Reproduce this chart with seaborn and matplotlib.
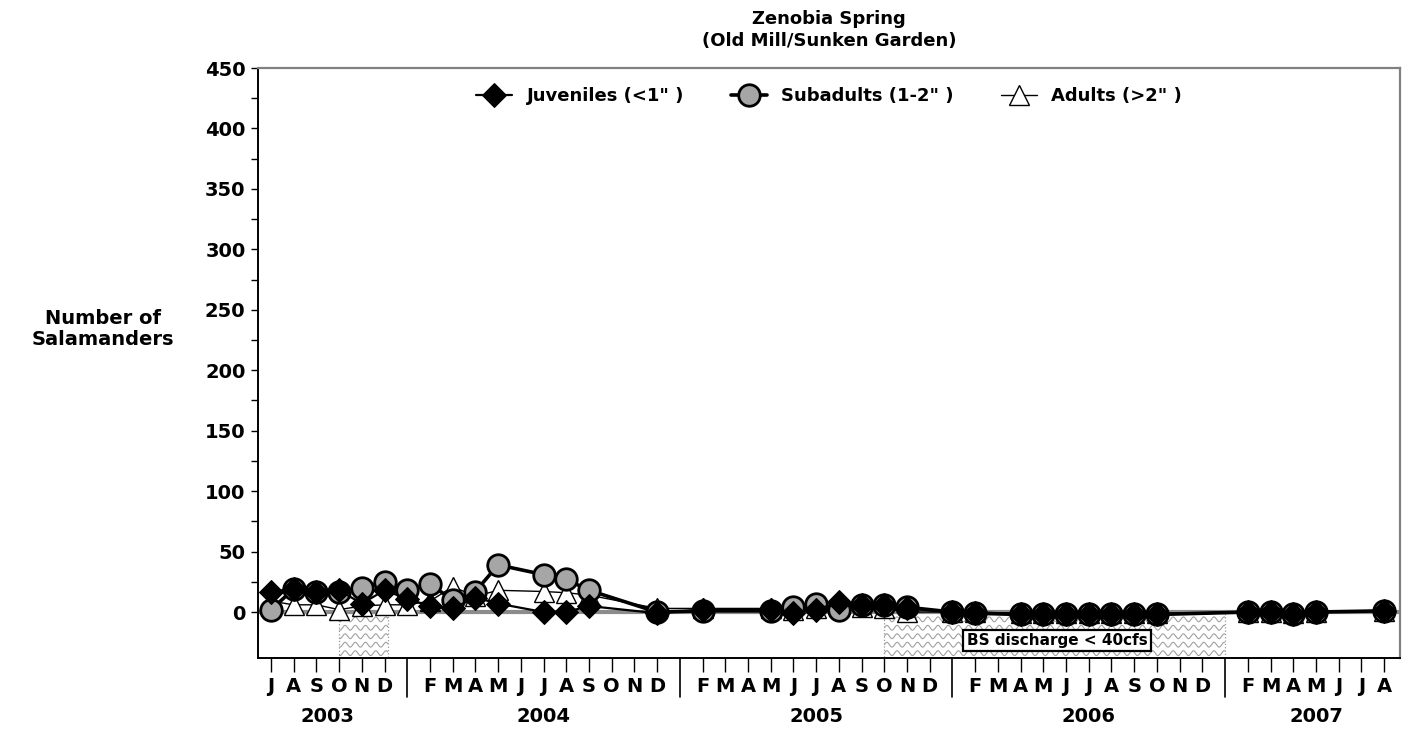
import numpy as np
import pandas as pd
import matplotlib
matplotlib.use("Agg")
import matplotlib.pyplot as plt
import matplotlib.transforms as mtransforms
from matplotlib.patches import Rectangle
import seaborn as sns

# ── DATA ─────────────────────────────────────────────────────────────────────
SAMPLE_DATES = [
    "2003-07", "2003-08", "2003-09", "2003-10", "2003-11", "2003-12",
    "2004-01", "2004-02", "2004-03", "2004-04", "2004-05", "2004-07", "2004-08", "2004-09", "2004-12",
    "2005-02", "2005-05", "2005-06", "2005-07", "2005-08", "2005-09", "2005-10", "2005-11",
    "2006-01", "2006-02", "2006-04", "2006-05", "2006-06", "2006-07", "2006-08", "2006-09", "2006-10",
    "2007-02", "2007-03", "2007-04", "2007-05", "2007-08",
]
JUVENILES = [17, 19, 17, 18, 7, 18,
             11, 5, 3, 12, 7, 0, 0, 5, -1,
             2, 2, -1, 2, 8, 6, 6, 3,
             0, -1, -2, -2, -2, -2, -2, -2, -2,
             0, 0, -2, 0, 1]
SUBADULTS = [2, 19, 17, 17, 20, 25,
             18, 23, 10, 17, 39, 31, 27, 18, 0,
             1, 1, 4, 7, 2, 6, 6, 4,
             0, -1, -2, -2, -2, -2, -2, -2, -2,
             0, 0, -2, 0, 1]
ADULTS = [9, 6, 6, 2, 5, 6,
          6, 9, 21, 13, 18, 17, 16, 14, 3,
          3, 3, 2, 3, 5, 4, 3, 0,
          0, 0, -1, -1, -1, -1, -1, -1, -1,
          0, 0, -1, 0, 1]

AXIS_START = "2003-07"
AXIS_END = "2007-08"
MONTH_LETTERS = list("JFMAMJJASOND")
YEARS = [2003, 2004, 2005, 2006, 2007]
Y_TICKS = list(range(0, 451, 50))
# low-flow periods (month index from Jul 2003), drawn as wavy hatched boxes
LOW_FLOW_SPANS = [(3.0, 5.15), (27.0, 42.0)]
LOW_FLOW_LABEL = "BS discharge < 40cfs"


def month_index(s):
    y, m = map(int, s.split("-"))
    return (y - 2003) * 12 + (m - 7)


df = pd.DataFrame({
    "t": [month_index(d) for d in SAMPLE_DATES],
    "juv": JUVENILES, "sub": SUBADULTS, "adu": ADULTS,
})

# ── STYLE ────────────────────────────────────────────────────────────────────
sns.set_style("ticks")
plt.rcParams["font.family"] = ["DejaVu Sans"]
plt.rcParams["font.weight"] = "bold"
plt.rcParams["text.color"] = "black"
plt.rcParams["xtick.color"] = "black"
plt.rcParams["ytick.color"] = "black"

fig = plt.figure(figsize=(14.09, 7.32), dpi=100)
ax = fig.add_axes([258 / 1409, 1 - 658 / 732, (1400 - 258) / 1409, (658 - 68) / 732])

t0, t1 = month_index(AXIS_START), month_index(AXIS_END)
ax.set_xlim(t0 - 0.57, t1 + 0.7)
ax.set_ylim(-38, 450)

# zero reference line
ax.axhline(0, color="#8c8c8c", lw=3, zorder=2)

# wavy-hatched low flow boxes
for x0, x1 in LOW_FLOW_SPANS:
    rect = Rectangle((x0, -38), x1 - x0, 38, facecolor="white", edgecolor="#9a9a9a",
                     lw=0.9, ls=":", zorder=1)
    ax.add_patch(rect)
    xs = np.linspace(x0, x1, 800)
    for yy in np.arange(-34, 0, 7.0):
        ln, = ax.plot(xs, yy + 2.0 * np.sin(2 * np.pi * xs / 0.45), color="#a0a0a0",
                      lw=0.8, zorder=1)
        ln.set_clip_path(rect)

ax.text(34.6, -23.5, LOW_FLOW_LABEL, ha="center", va="center", fontsize=11,
        fontweight="bold", zorder=6,
        bbox=dict(boxstyle="square,pad=0.22", facecolor="white", edgecolor="black", lw=1.6))

# ── SERIES ───────────────────────────────────────────────────────────────────
sns.lineplot(data=df, x="t", y="adu", ax=ax, color="black", lw=1.0, marker="^",
             markersize=14, markerfacecolor="white", markeredgecolor="black",
             markeredgewidth=1, label="Adults (>2\" )", zorder=3)
sns.lineplot(data=df, x="t", y="sub", ax=ax, color="black", lw=2.6, marker="o",
             markersize=15.5, markerfacecolor="#a6a6a6", markeredgecolor="black",
             markeredgewidth=2, label="Subadults (1-2\" )", zorder=4)
sns.lineplot(data=df, x="t", y="juv", ax=ax, color="black", lw=1.6, marker="D",
             markersize=12, markerfacecolor="black", markeredgecolor="black",
             label="Juveniles (<1\" )", zorder=5)

handles, labels = ax.get_legend_handles_labels()
order = [2, 1, 0]
ax.legend([handles[i] for i in order], [labels[i] for i in order], loc="upper center",
          bbox_to_anchor=(0.5, 0.995), ncol=3, frameon=False, handlelength=2.0,
          columnspacing=2.6, handletextpad=0.8, prop=dict(size=13, weight="bold"))

# ── AXES ─────────────────────────────────────────────────────────────────────
ax.set_xlabel("")
ax.set_ylabel("")
ax.set_yticks(Y_TICKS)
ax.set_yticklabels([str(v) for v in Y_TICKS], fontsize=14, fontweight="bold")
ax.set_yticks(np.arange(25, 450, 50), minor=True)
ax.tick_params(axis="y", which="both", direction="out", length=5, width=1, pad=4)

months = list(range(t0, t1 + 1))
month_num = [(m + 6) % 12 for m in months]  # 0 = January
lab_pos = [m for m, n in zip(months, month_num) if n != 0]
lab_txt = [MONTH_LETTERS[n] for m, n in zip(months, month_num) if n != 0]
ax.set_xticks(lab_pos)
ax.set_xticklabels(lab_txt, fontsize=14, fontweight="bold")
ax.tick_params(axis="x", direction="out", length=10, width=1, pad=4)

blend = mtransforms.blended_transform_factory(ax.transData, ax.transAxes)
for m, n in zip(months, month_num):
    if n == 0:
        ax.plot([m, m], [0, -0.066], transform=blend, color="black", lw=1.2, clip_on=False)

for yr in YEARS:
    pos = [m for m, n in zip(months, month_num) if n != 0 and (m + 6) // 12 + 2003 == yr]
    ax.text(np.mean(pos), -0.099, str(yr), transform=blend, ha="center", va="center",
            fontsize=14, fontweight="bold")

for side in ["left", "bottom"]:
    ax.spines[side].set_color("black")
    ax.spines[side].set_linewidth(1.4)
for side in ["top", "right"]:
    ax.spines[side].set_color("#808080")
    ax.spines[side].set_linewidth(1.6)

fig.text(829 / 1409, 1 - 30 / 732, "Zenobia Spring\n(Old Mill/Sunken Garden)", ha="center",
         va="center", fontsize=13, fontweight="bold", linespacing=1.25)
fig.text(103 / 1409, 1 - 329 / 732, "Number of\nSalamanders", ha="center", va="center",
         fontsize=14, fontweight="bold", linespacing=1.1)

plt.savefig("out.png", dpi=100)
print("[✓] Saved: out.png")
